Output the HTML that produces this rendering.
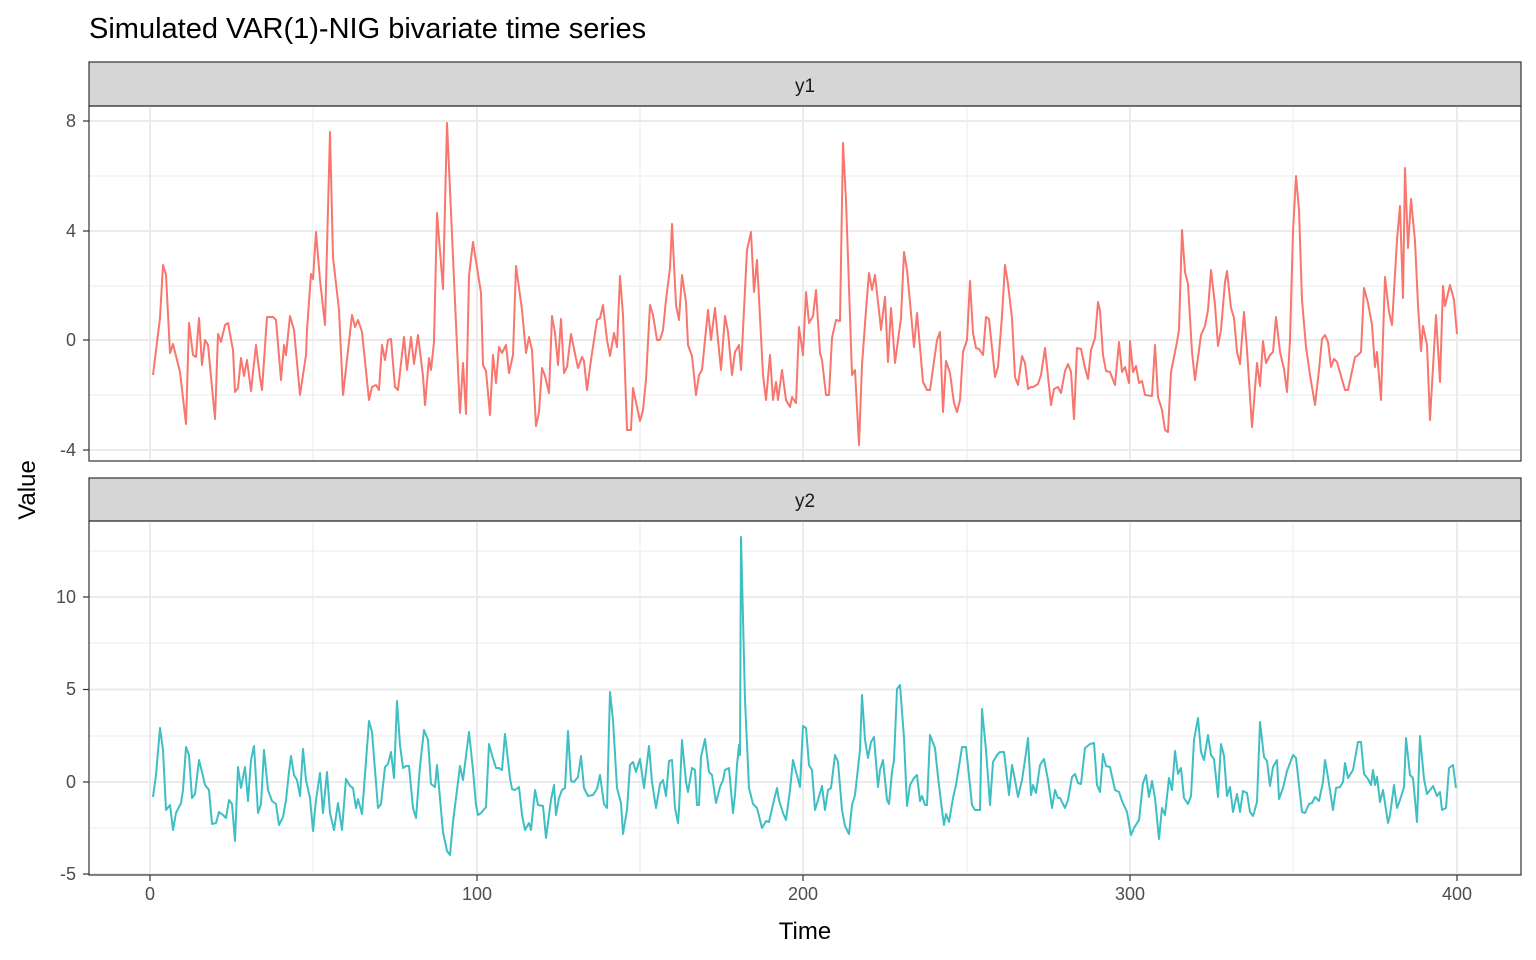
<!DOCTYPE html>
<html><head><meta charset="utf-8"><style>body{margin:0;background:#fff}svg{display:block}text{font-family:"Liberation Sans",sans-serif}</style></head><body>
<svg width="1536" height="960" xmlns="http://www.w3.org/2000/svg">
<rect width="1536" height="960" fill="#fff"/>
<text x="89" y="38" font-size="29" fill="#000">Simulated VAR(1)-NIG bivariate time series</text>
<!-- panel 1 -->
<rect x="89" y="62" width="1432" height="44" fill="#d6d6d6" stroke="#333" stroke-width="1.2"/>
<text x="805" y="92" font-size="19" text-anchor="middle" fill="#1a1a1a">y1</text>
<g stroke="#ebebeb" stroke-width="1">
<line x1="89" x2="1521" y1="176" y2="176"/><line x1="89" x2="1521" y1="286" y2="286"/><line x1="89" x2="1521" y1="395" y2="395"/>
<line x1="313" x2="313" y1="106" y2="461"/><line x1="640" x2="640" y1="106" y2="461"/><line x1="967" x2="967" y1="106" y2="461"/><line x1="1293" x2="1293" y1="106" y2="461"/>
</g>
<g stroke="#ebebeb" stroke-width="2">
<line x1="89" x2="1521" y1="121" y2="121"/><line x1="89" x2="1521" y1="231" y2="231"/><line x1="89" x2="1521" y1="340" y2="340"/><line x1="89" x2="1521" y1="450" y2="450"/>
<line x1="150" x2="150" y1="106" y2="461"/><line x1="477" x2="477" y1="106" y2="461"/><line x1="803" x2="803" y1="106" y2="461"/><line x1="1130" x2="1130" y1="106" y2="461"/><line x1="1457" x2="1457" y1="106" y2="461"/>
</g>
<polyline fill="none" stroke="#F8766D" stroke-width="2" stroke-linejoin="round" points="153,375 160,318 163,265 166,275 170,353 173,344 180,372 186,424 189,323 193,355 196,357 199,318 202,365 205,340 208,345 215,419 218,334 221,342 225,325 228,323 233,350 235,392 238,388 241,358 244,376 247,360 251,391 256,345 260,378 262,390 267,317 273,317 276,320 281,380 284,345 286,355 290,316 294,330 300,395 306,355 307,330 311,274 313,279 316,232 320,280 325,325 330,132 333,257 339,310 343,395 352,315 355,327 358,320 362,332 369,400 372,387 376,385 379,390 382,345 385,360 388,340 391,339 395,387 398,390 404,337 407,370 411,337 414,364 418,335 423,376 425,405 429,358 431,370 434,342 437,213 443,289 447,123 460,413 463,363 466,414 469,276 473,242 481,293 483,365 486,371 490,415 493,355 496,383 499,347 502,353 506,345 509,373 513,355 516,266 522,310 526,353 529,337 532,350 536,426 539,412 542,368 545,376 549,393 552,316 555,333 558,365 561,319 564,373 567,367 571,334 574,349 578,368 582,357 584,361 587,390 591,360 597,320 600,318 603,305 607,340 610,356 614,333 617,347 620,276 623,315 627,430 631,430 633,388 640,421 643,410 646,380 650,305 653,315 657,340 660,340 663,330 666,300 670,268 672,224 676,305 679,320 682,275 686,302 688,345 692,356 696,395 699,375 702,370 708,310 711,340 715,308 718,340 721,370 725,316 728,332 732,375 735,352 739,345 741,370 747,250 751,232 754,292 757,260 763,375 766,400 770,355 773,400 776,382 778,400 782,370 786,400 790,407 792,397 796,403 799,327 803,355 806,292 809,323 813,316 816,290 820,353 822,360 826,395 829,395 832,338 836,320 840,321 843,143 846,200 852,375 855,370 859,445 862,365 866,310 869,273 872,290 875,275 880,320 881,330 885,297 888,362 891,308 895,363 901,318 904,252 907,270 911,313 914,347 917,313 923,382 927,390 930,390 937,340 940,332 943,412 946,361 950,373 954,403 957,412 960,400 963,352 967,340 970,281 973,333 976,348 979,349 983,355 986,317 989,319 995,377 998,367 1002,316 1005,265 1008,284 1012,318 1015,377 1018,385 1022,356 1025,363 1028,389 1031,387 1033,387 1038,384 1041,375 1045,348 1051,405 1054,389 1058,387 1061,393 1065,371 1068,364 1071,372 1074,419 1077,348 1081,349 1085,368 1088,379 1091,350 1095,338 1098,302 1100,311 1103,355 1106,371 1110,372 1115,385 1119,342 1122,372 1125,367 1129,383 1130,341 1133,372 1136,366 1139,383 1142,381 1145,395 1152,396 1155,345 1158,397 1162,410 1165,430 1168,432 1171,372 1177,342 1179,330 1182,230 1185,272 1188,284 1192,352 1195,380 1199,350 1201,335 1205,326 1208,310 1211,270 1215,305 1218,346 1221,330 1225,282 1227,271 1231,308 1234,318 1237,352 1240,364 1244,312 1247,350 1252,427 1257,363 1260,386 1263,341 1266,363 1270,355 1273,352 1276,317 1280,352 1284,369 1287,392 1290,340 1293,232 1296,176 1299,210 1302,300 1306,347 1310,375 1315,405 1319,370 1322,339 1325,335 1328,342 1331,367 1334,359 1337,362 1345,390 1348,390 1355,357 1357,356 1361,352 1364,288 1368,303 1372,325 1375,367 1377,352 1381,400 1385,277 1389,312 1392,325 1397,240 1400,206 1403,298 1405,168 1408,248 1411,199 1415,241 1418,305 1421,351 1423,326 1427,345 1430,420 1436,315 1440,382 1443,286 1445,306 1450,285 1454,300 1457,334"/>
<rect x="89" y="106" width="1432" height="355" fill="none" stroke="#333" stroke-width="1.2"/>
<g font-size="18" fill="#4d4d4d" text-anchor="end">
<text x="76" y="127">8</text><text x="76" y="237">4</text><text x="76" y="346">0</text><text x="76" y="456">-4</text>
</g>
<g stroke="#333" stroke-width="1.2"><line x1="83" x2="89" y1="121" y2="121"/><line x1="83" x2="89" y1="231" y2="231"/><line x1="83" x2="89" y1="340" y2="340"/><line x1="83" x2="89" y1="450" y2="450"/></g>
<!-- panel 2 -->
<rect x="89" y="478" width="1432" height="43" fill="#d6d6d6" stroke="#333" stroke-width="1.2"/>
<text x="805" y="507" font-size="19" text-anchor="middle" fill="#1a1a1a">y2</text>
<g stroke="#ebebeb" stroke-width="1">
<line x1="89" x2="1521" y1="643" y2="643"/><line x1="89" x2="1521" y1="736" y2="736"/><line x1="89" x2="1521" y1="828" y2="828"/><line x1="89" x2="1521" y1="551" y2="551"/>
<line x1="313" x2="313" y1="521" y2="875"/><line x1="640" x2="640" y1="521" y2="875"/><line x1="967" x2="967" y1="521" y2="875"/><line x1="1293" x2="1293" y1="521" y2="875"/>
</g>
<g stroke="#ebebeb" stroke-width="2">
<line x1="89" x2="1521" y1="597" y2="597"/><line x1="89" x2="1521" y1="689.5" y2="689.5"/><line x1="89" x2="1521" y1="782" y2="782"/><line x1="89" x2="1521" y1="874" y2="874"/>
<line x1="150" x2="150" y1="521" y2="875"/><line x1="477" x2="477" y1="521" y2="875"/><line x1="803" x2="803" y1="521" y2="875"/><line x1="1130" x2="1130" y1="521" y2="875"/><line x1="1457" x2="1457" y1="521" y2="875"/>
</g>
<polyline fill="none" stroke="#3fbfc4" stroke-width="2" stroke-linejoin="round" points="153,797 156,775 160,728 163,750 166,810 170,805 173,830 176,813 181,803 183,790 186,747 189,755 192,798 195,794 199,760 202,772 205,785 209,790 212,824 216,823 219,812 223,815 226,818 229,800 232,804 235,841 238,767 241,788 245,767 248,801 251,760 254,746 258,813 261,804 264,750 268,790 272,801 276,804 279,825 283,817 286,800 289,772 291,756 294,775 297,780 300,796 303,749 306,780 310,798 313,831 316,800 320,773 323,813 327,772 330,813 334,830 338,803 342,830 346,779 350,786 353,788 356,808 358,799 362,814 369,721 372,732 375,770 378,808 381,804 385,767 388,764 391,752 394,778 397,701 400,745 403,768 406,766 409,766 413,808 416,818 420,766 424,730 428,740 431,784 435,787 437,765 443,832 447,851 450,855 453,822 460,766 463,780 466,756 469,732 473,770 476,805 478,815 481,813 486,807 489,744 492,755 496,768 499,768 502,770 505,734 510,778 512,789 515,790 519,787 522,815 525,830 529,823 531,830 535,790 538,805 543,806 546,838 551,800 554,785 556,815 559,798 562,790 565,788 568,731 571,781 574,782 578,777 581,756 584,788 588,796 593,795 597,789 600,775 604,804 607,808 610,692 613,720 617,788 621,803 623,834 627,810 630,765 633,762 636,772 640,759 644,788 649,746 652,782 656,808 660,784 663,780 666,796 669,761 672,760 675,808 678,823 679,810 682,740 686,782 688,792 692,768 695,770 697,805 699,805 701,757 705,739 709,772 712,775 716,803 720,787 723,780 725,770 729,768 733,813 735,795 737,765 739,745 740,755 741,537 745,700 749,788 753,804 757,808 762,828 766,821 769,822 774,800 777,788 779,800 783,813 786,820 790,790 793,760 800,787 803,726 806,728 809,765 812,770 815,810 818,800 822,786 825,810 828,790 831,788 835,755 838,762 842,810 845,826 849,834 852,805 855,795 860,750 862,695 865,740 868,758 871,742 874,737 878,787 880,770 883,760 887,800 889,804 892,772 894,760 897,689 900,685 904,738 907,806 910,785 914,778 917,775 920,801 922,796 925,805 927,805 930,735 935,748 938,777 942,810 944,825 946,814 949,822 953,798 956,785 960,760 962,747 966,747 972,805 975,810 980,810 982,709 986,750 990,805 993,762 997,755 1000,752 1004,752 1009,795 1012,765 1015,780 1018,797 1022,780 1025,760 1028,738 1031,795 1033,785 1036,793 1040,765 1044,759 1048,780 1052,808 1055,790 1058,798 1060,798 1065,808 1068,800 1072,777 1075,774 1078,783 1081,784 1085,748 1090,744 1094,743 1097,785 1100,792 1103,754 1106,766 1110,767 1115,790 1119,792 1122,801 1127,812 1131,835 1134,828 1139,820 1143,783 1146,775 1149,797 1152,781 1155,798 1159,839 1162,808 1165,815 1169,778 1172,790 1175,751 1178,774 1181,768 1184,798 1188,804 1191,796 1194,740 1198,718 1201,752 1204,760 1208,735 1211,755 1214,759 1218,797 1221,744 1224,756 1227,796 1230,787 1233,812 1237,794 1240,812 1243,791 1247,793 1250,812 1253,816 1257,802 1260,722 1264,757 1267,761 1270,786 1273,767 1277,760 1279,799 1283,788 1287,771 1293,755 1296,758 1302,812 1305,813 1309,804 1312,803 1315,797 1319,801 1323,782 1325,760 1327,771 1333,810 1336,788 1340,787 1343,782 1345,763 1348,778 1353,770 1358,742 1361,742 1364,774 1368,779 1371,785 1373,770 1375,785 1377,777 1380,802 1383,790 1388,823 1390,815 1394,785 1397,808 1400,800 1404,787 1406,738 1410,775 1413,778 1417,822 1420,736 1424,779 1427,794 1431,789 1433,786 1437,796 1440,792 1442,810 1446,808 1449,768 1453,765 1456,788"/>
<rect x="89" y="521" width="1432" height="354" fill="none" stroke="#333" stroke-width="1.2"/>
<g font-size="18" fill="#4d4d4d" text-anchor="end">
<text x="76" y="603">10</text><text x="76" y="695">5</text><text x="76" y="788">0</text><text x="76" y="880">-5</text>
</g>
<g stroke="#333" stroke-width="1.2"><line x1="83" x2="89" y1="597" y2="597"/><line x1="83" x2="89" y1="689.5" y2="689.5"/><line x1="83" x2="89" y1="782" y2="782"/><line x1="83" x2="89" y1="874" y2="874"/>
<line x1="150" x2="150" y1="875" y2="881"/><line x1="477" x2="477" y1="875" y2="881"/><line x1="803" x2="803" y1="875" y2="881"/><line x1="1130" x2="1130" y1="875" y2="881"/><line x1="1457" x2="1457" y1="875" y2="881"/></g>
<g font-size="18" fill="#4d4d4d" text-anchor="middle">
<text x="150" y="900">0</text><text x="477" y="900">100</text><text x="803" y="900">200</text><text x="1130" y="900">300</text><text x="1457" y="900">400</text>
</g>
<text x="805" y="939" font-size="24" text-anchor="middle" fill="#000">Time</text>
<text transform="translate(35,490) rotate(-90)" font-size="24" text-anchor="middle" fill="#000">Value</text>
</svg>
</body></html>
